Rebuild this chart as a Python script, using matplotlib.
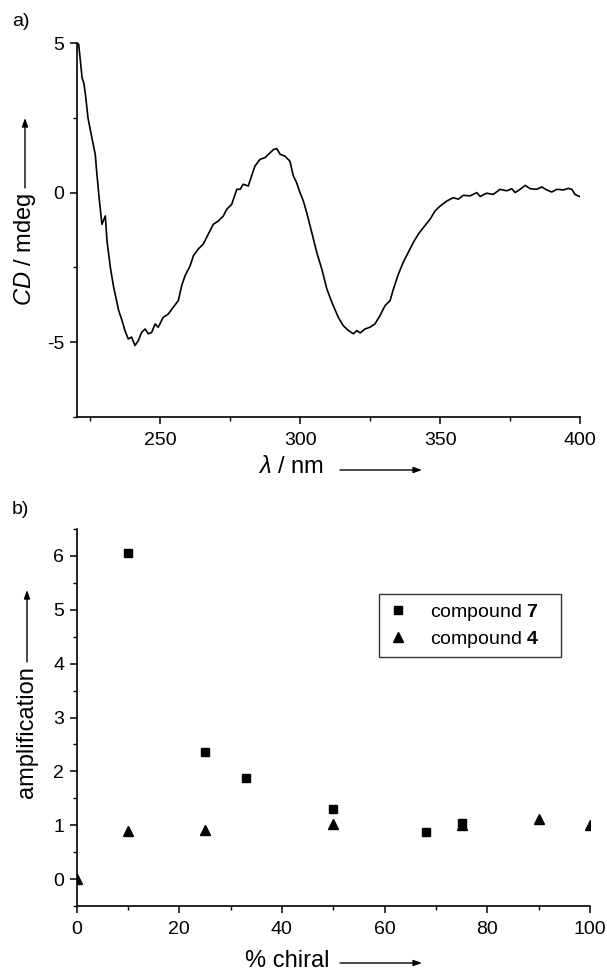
import numpy as np
import matplotlib
matplotlib.use('Agg')
import matplotlib.pyplot as plt
from matplotlib.ticker import MultipleLocator


plt.rcParams['font.family'] = ['Liberation Sans', 'DejaVu Sans']
plt.rcParams['mathtext.fontset'] = 'custom'
plt.rcParams['mathtext.rm'] = 'Liberation Sans'
plt.rcParams['mathtext.it'] = 'Liberation Sans:italic'
plt.rcParams['mathtext.bf'] = 'Liberation Sans:bold'
plt.rcParams['axes.unicode_minus'] = False


# a) CD spectrum
wavelength = [220.2, 220.8, 221.4, 222.0, 222.6, 223.2, 224.1, 225.5, 226.7, 227.3,
              228.2, 229.1, 230.3, 230.9, 232.1, 233.3, 235.1, 236.3, 237.3, 238.5,
              239.7, 240.9, 242.1, 243.3, 244.5, 245.7, 246.9, 248.1, 249.2, 251.0,
              252.8, 254.6, 256.4, 257.6, 258.8, 260.6, 261.8, 263.5, 265.3, 267.1,
              268.9, 270.7, 272.5, 273.7, 275.5, 277.3, 278.5, 279.6, 281.4, 282.6,
              283.8, 285.6, 287.4, 289.2, 290.4, 291.6, 292.8, 294.5, 296.3, 297.5,
              298.7, 299.9, 301.1, 302.3, 304.1, 305.9, 307.7, 309.5, 311.3, 313.6,
              315.4, 317.2, 319.0, 320.2, 321.4, 323.1, 324.9, 326.7, 328.5, 330.3,
              332.1, 333.3, 335.1, 336.8, 338.6, 340.4, 342.2, 344.0, 346.4, 348.2,
              350.0, 352.4, 354.7, 356.5, 358.3, 360.7, 363.1, 364.3, 366.6, 369.0,
              371.4, 373.8, 375.6, 376.8, 378.6, 380.4, 382.2, 384.5, 386.3, 388.1,
              389.9, 391.7, 394.1, 395.8, 397.1, 398.2, 399.8]
cd_mdeg = [5.05, 4.94, 4.39, 3.83, 3.67, 3.28, 2.50, 1.83, 1.28, 0.61,
           -0.28, -1.06, -0.78, -1.61, -2.50, -3.17, -3.95, -4.28, -4.61, -4.89,
           -4.83, -5.11, -4.95, -4.67, -4.56, -4.72, -4.67, -4.39, -4.50, -4.17,
           -4.06, -3.83, -3.61, -3.11, -2.78, -2.45, -2.11, -1.89, -1.72, -1.39,
           -1.06, -0.95, -0.78, -0.56, -0.39, 0.11, 0.11, 0.28, 0.22, 0.56,
           0.89, 1.11, 1.17, 1.33, 1.44, 1.47, 1.28, 1.22, 1.05, 0.56,
           0.33, 0.00, -0.28, -0.67, -1.33, -2.00, -2.56, -3.22, -3.67, -4.17,
           -4.45, -4.61, -4.72, -4.61, -4.69, -4.56, -4.50, -4.39, -4.11, -3.78,
           -3.61, -3.22, -2.72, -2.33, -2.00, -1.67, -1.39, -1.17, -0.89, -0.61,
           -0.45, -0.28, -0.17, -0.22, -0.09, -0.11, 0.00, -0.13, -0.02, -0.06,
           0.11, 0.06, 0.13, 0.00, 0.11, 0.24, 0.13, 0.11, 0.19, 0.09,
           0.02, 0.11, 0.09, 0.14, 0.11, -0.06, -0.13]

# b) amplification vs % chiral
chiral_7 = [10, 25, 33, 50, 68, 75]
amp_7 = [6.05, 2.36, 1.87, 1.30, 0.87, 1.05]
chiral_4 = [0, 10, 25, 50, 75, 90, 100]
amp_4 = [0.0, 0.90, 0.92, 1.02, 1.01, 1.12, 1.00]


W, H = 607, 972
fig = plt.figure(figsize=(W / 100, H / 100), dpi=100)

def fx(px):
    return px / W

def fy(py):
    return 1 - py / H

def style_axes(ax):
    for s in ['top', 'right']:
        ax.spines[s].set_visible(False)
    for s in ['left', 'bottom']:
        ax.spines[s].set_linewidth(1.2)
    ax.tick_params(which='major', direction='out', length=5, width=1.1, labelsize=14)
    ax.tick_params(which='minor', direction='out', length=3, width=1.0)
    ax.tick_params(axis='x', which='major', pad=6)
    ax.tick_params(axis='y', which='major', pad=4)


# top panel
ax1 = fig.add_axes([fx(76.5), fy(417), fx(580) - fx(76.5), fy(43) - fy(417)])
ax1.plot(wavelength, cd_mdeg, color='black', lw=1.2)
ax1.set_xlim(220, 400)
ax1.set_ylim(-7.5, 5)
ax1.xaxis.set_minor_locator(MultipleLocator(25))
ax1.set_xticks([250, 300, 350, 400])
ax1.yaxis.set_major_locator(MultipleLocator(5))
ax1.yaxis.set_minor_locator(MultipleLocator(2.5))
style_axes(ax1)

# bottom panel
ax2 = fig.add_axes([fx(76.5), fy(906), fx(590) - fx(76.5), fy(529) - fy(906)])
ax2.plot(chiral_7, amp_7, ls='none', marker='s', ms=5.5, color='black',
         label=r'compound $\mathbf{7}$', clip_on=False)
ax2.plot(chiral_4, amp_4, ls='none', marker='^', ms=6.5, color='black',
         label=r'compound $\mathbf{4}$')
ax2.set_xlim(0, 100)
ax2.set_ylim(-0.5, 6.5)
ax2.xaxis.set_major_locator(MultipleLocator(20))
ax2.xaxis.set_minor_locator(MultipleLocator(10))
ax2.yaxis.set_major_locator(MultipleLocator(1))
ax2.yaxis.set_minor_locator(MultipleLocator(0.5))
style_axes(ax2)

leg = ax2.legend(loc='upper left',
                 bbox_to_anchor=(fx(379), fy(655), fx(561) - fx(379), fy(594) - fy(655)),
                 bbox_transform=fig.transFigure, mode='expand', borderaxespad=0,
                 fancybox=False, frameon=True, fontsize=14, handletextpad=1.0,
                 handlelength=1.2, borderpad=0.4, labelspacing=0.3, numpoints=1)
leg.get_frame().set_edgecolor('black')
leg.get_frame().set_linewidth(1.0)

# panel letters
fig.text(fx(12), fy(22), 'a)', fontsize=14, ha='left', va='center')
fig.text(fx(12), fy(510), 'b)', fontsize=14, ha='left', va='center')

arrow = dict(arrowstyle='-|>,head_length=0.5,head_width=0.18', color='black', lw=1.0,
             shrinkA=0, shrinkB=0)

# axis labels with arrows
fig.text(fx(25), fy(249), r'$\it{CD}$ / mdeg', rotation=90, fontsize=17, ha='center', va='center')
fig.add_artist(plt.Annotation('', xy=(fx(25), fy(118)), xytext=(fx(25), fy(188)),
                              xycoords='figure fraction', arrowprops=arrow))
fig.text(fx(291), fy(467), r'$\lambda$ / nm', fontsize=17, ha='center', va='center')
fig.add_artist(plt.Annotation('', xy=(fx(422), fy(470)), xytext=(fx(340), fy(470)),
                              xycoords='figure fraction', arrowprops=arrow))

fig.text(fx(27), fy(732), 'amplification', rotation=90, fontsize=17, ha='center', va='center')
fig.add_artist(plt.Annotation('', xy=(fx(27), fy(590)), xytext=(fx(27), fy(662)),
                              xycoords='figure fraction', arrowprops=arrow))
fig.text(fx(287), fy(961), '% chiral', fontsize=17, ha='center', va='center')
fig.add_artist(plt.Annotation('', xy=(fx(422), fy(963)), xytext=(fx(340), fy(963)),
                              xycoords='figure fraction', arrowprops=arrow))

fig.savefig('out.png', dpi=100)
